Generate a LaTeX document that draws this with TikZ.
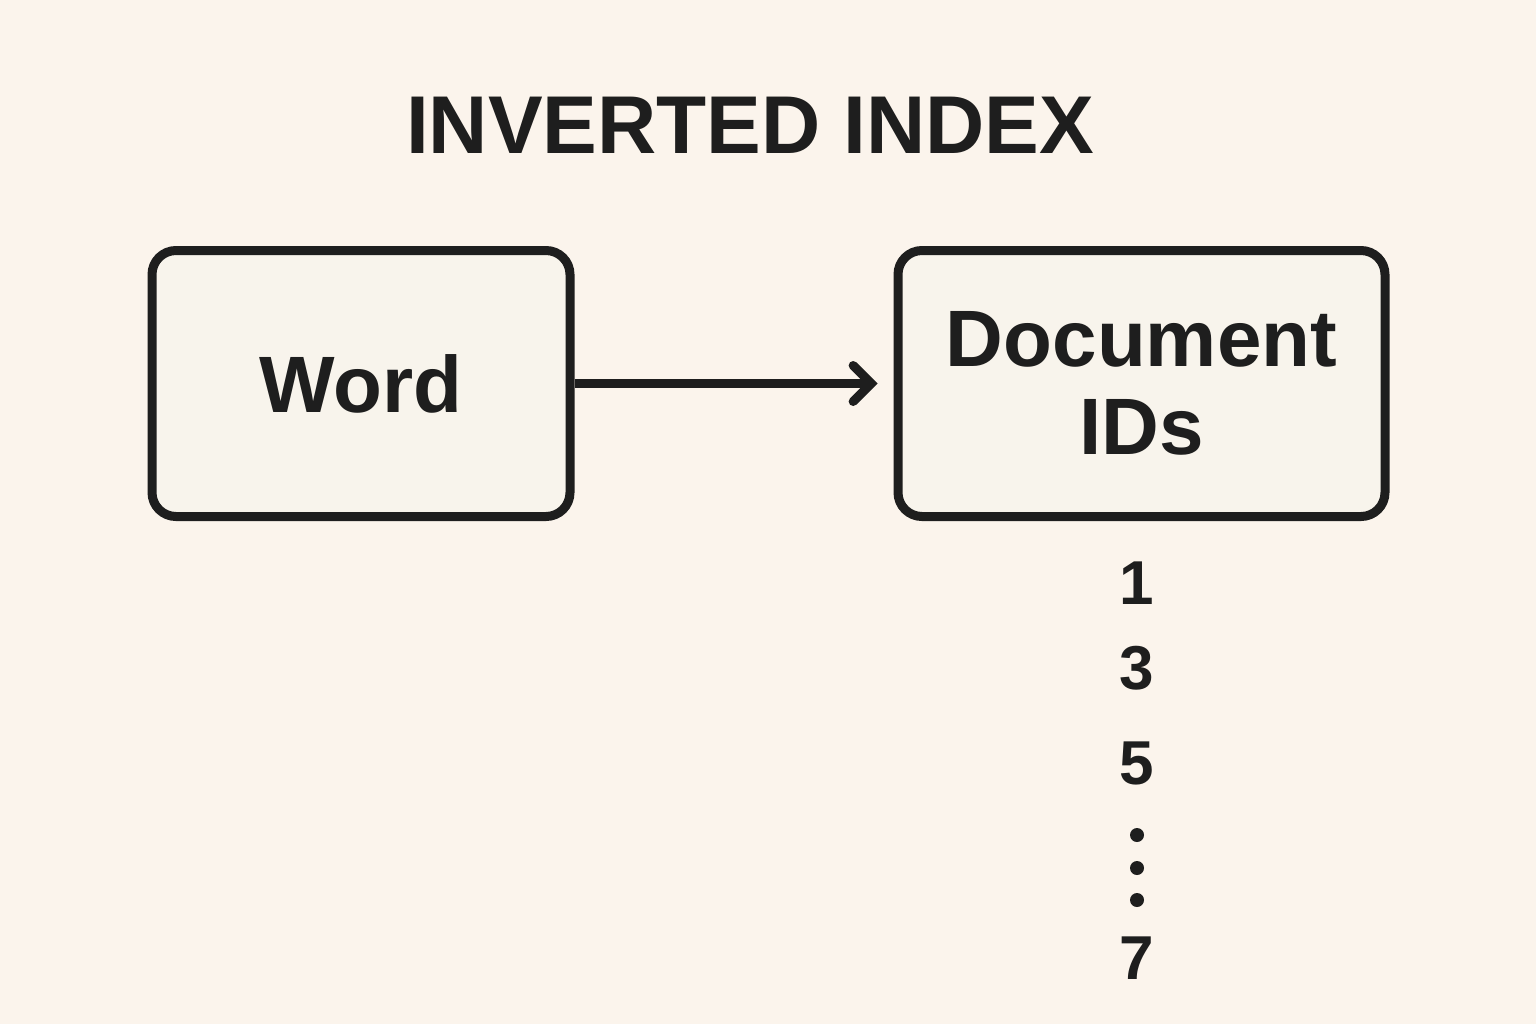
\documentclass[tikz,border=0pt]{standalone}
\usepackage{fontspec}
\setmainfont{Liberation Sans}
\usetikzlibrary{arrows.meta,positioning}
\definecolor{paper}{HTML}{FBF4EC}
\definecolor{boxfill}{HTML}{F8F4EC}
\definecolor{ink}{HTML}{1E1E1E}
\tikzset{
  box/.style={draw=ink,line width=4.5pt,rounded corners=12pt,fill=boxfill,
    minimum width=209pt,minimum height=133pt,font=\fontsize{40}{44}\selectfont\bfseries,
    text=ink,align=center},
  num/.style={font=\fontsize{31}{31}\selectfont\bfseries,text=ink}
}
\begin{document}
\begin{tikzpicture}[x=0.5pt,y=-0.5pt]
        \fill[paper] (0,0) rectangle (1536,1024);
        \useasboundingbox (0,0) rectangle (1536,1024);

        \node[font=\fontsize{41}{41}\selectfont\bfseries,text=ink] (title) at (750,125) {INVERTED INDEX};

        \node[box] (word) at (361,383.5) {Word};
        \node[box,minimum width=243.5pt] (docs) at (1141.5,383.5) {Document\\IDs};

        \draw[ink,line width=4.5pt,-{Straight Barb[length=9pt,width=18pt,line cap=round]}] (word.east) -- ([xshift=-8pt]docs.west);

        % document ids
        \node[num] (id1) at (1137,583) {1};
        \node[num] (id3) at (1137,668) {3};
        \node[num] (id5) at (1137,763) {5};
        \foreach \y in {835,868,900}
        \fill[ink] (1137,\y) circle (3.5pt);
        \node[num] (id7) at (1137,958) {7};
      \end{tikzpicture}
\end{document}
